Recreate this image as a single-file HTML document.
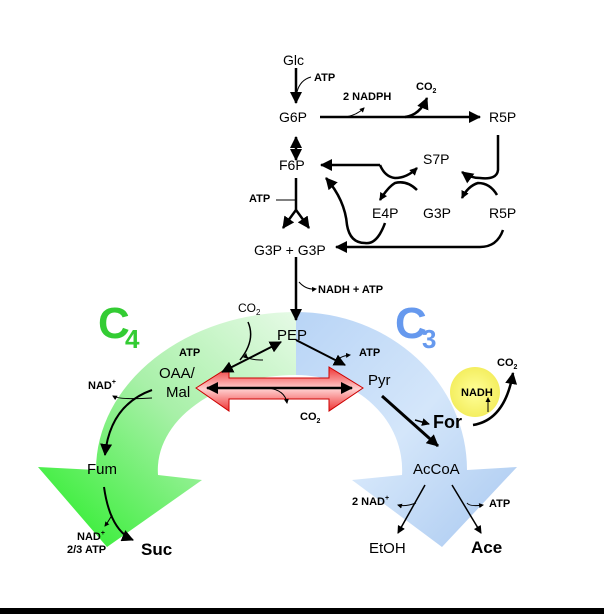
<!DOCTYPE html>
<html><head><meta charset="utf-8"><style>
html,body{margin:0;padding:0;background:#fff;width:604px;height:614px;overflow:hidden}
svg text{font-family:"Liberation Sans",Arial,sans-serif;fill:#000}
.b{font-weight:bold}
.n{font-weight:normal}
</style></head><body>
<svg width="604" height="614" viewBox="0 0 604 614" xmlns="http://www.w3.org/2000/svg">
<defs>
<linearGradient id="gg" x1="1" y1="0" x2="0" y2="1">
<stop offset="0" stop-color="#e6fae6"/><stop offset="0.45" stop-color="#a8f0a8"/><stop offset="1" stop-color="#22ee22"/></linearGradient>
<linearGradient id="bg" x1="0" y1="0" x2="1" y2="1">
<stop offset="0" stop-color="#b8d4f6"/><stop offset="0.5" stop-color="#d4e6fa"/><stop offset="1" stop-color="#a8c8f0"/></linearGradient>
<linearGradient id="rg" x1="0" y1="0" x2="0" y2="1">
<stop offset="0" stop-color="#ee3333"/><stop offset="0.5" stop-color="#ffd0d0"/><stop offset="1" stop-color="#ee3333"/></linearGradient>
<radialGradient id="yg"><stop offset="0" stop-color="#ffff99"/><stop offset="1" stop-color="#f4ee60"/></radialGradient>
<marker id="a" markerWidth="8" markerHeight="8" refX="7" refY="4" orient="auto-start-reverse" markerUnits="userSpaceOnUse"><path d="M0,0 L8,4 L0,8z" fill="#000"/></marker>
<marker id="b" markerWidth="12" markerHeight="12" refX="11" refY="6" orient="auto-start-reverse" markerUnits="userSpaceOnUse"><path d="M0,0 L12,6 L0,12z" fill="#000"/></marker>
<marker id="s" markerWidth="5" markerHeight="5" refX="4" refY="2.5" orient="auto-start-reverse" markerUnits="userSpaceOnUse"><path d="M0,0 L5,2.5 L0,5z" fill="#000"/></marker>
</defs>
<path d="M296,312 A200,158 0 0 0 96,470 L38,467 L107,547 L202,480 L158,475 A138,95 0 0 1 296,375 Z" fill="url(#gg)"/>
<path d="M296,312 A171,158 0 0 1 467,470 L517,467 L442,547 L352,480 L402,475 A106,95 0 0 0 296,375 Z" fill="url(#bg)"/>
<path d="M196,388 L229,367 L229,378 L329,378 L329,367 L363,388 L329,411 L329,399 L229,399 L229,411 Z" fill="url(#rg)" stroke="#c00" stroke-width="1"/>
<line x1="207" y1="388" x2="352" y2="388" stroke="#000" stroke-width="2.5" marker-start="url(#b)" marker-end="url(#b)"/>
<path d="M268,388 Q285,390 287,403" fill="none" stroke="#000" stroke-width="1" marker-end="url(#s)"/>
<ellipse cx="475" cy="392" rx="25" ry="25" fill="url(#yg)"/>
<g stroke="#000" fill="none" stroke-width="2.5">
<line x1="296" y1="68" x2="296" y2="103" marker-end="url(#b)"/>
<line x1="296" y1="137" x2="296" y2="160" marker-end="url(#b)" marker-start="url(#b)"/>
<line x1="320" y1="117" x2="480" y2="117" marker-end="url(#b)"/>
<path d="M405,117 Q420,115 427,98" marker-end="url(#b)"/>
<line x1="380" y1="165" x2="321" y2="165" marker-end="url(#b)"/>
<path d="M380,165 Q385,177 395,178 Q407,178 417,168" marker-end="url(#a)"/>
<path d="M498,135 L498,170 Q497,180 480,178 Q470,178 462,172" marker-end="url(#b)"/>
<path d="M417,190 Q407,180 395,183 Q388,187 380,200" marker-end="url(#a)"/>
<path d="M497,195 Q490,183 478,183 Q468,186 462,198" marker-end="url(#a)"/>
<path d="M385,223 Q377,245 365,243 Q350,243 347,225 Q345,200 326,178" marker-end="url(#b)"/>
<path d="M503,230 Q497,247 480,247 L336,247" marker-end="url(#b)"/>
<line x1="296" y1="178" x2="296" y2="210"/>
<path d="M296,210 Q290,218 283,228" marker-end="url(#b)"/>
<path d="M296,210 Q302,218 309,228" marker-end="url(#b)"/>
<line x1="296" y1="257" x2="296" y2="320" marker-end="url(#b)"/>
<line x1="296" y1="340" x2="345" y2="365" stroke-width="2" marker-end="url(#b)"/>
<path d="M222,372 L281,342" stroke-width="2" marker-start="url(#b)" marker-end="url(#b)"/>
<path d="M248,322 Q256,340 240,360" stroke-width="1.5"/>
<path d="M152,390 Q110,405 105,455" marker-end="url(#b)" stroke-width="2"/>
<path d="M104,487 Q110,530 133,540" marker-end="url(#b)" stroke-width="2"/>
<line x1="382" y1="396" x2="438" y2="446" stroke-width="3" marker-end="url(#b)"/>
<line x1="415" y1="420" x2="429" y2="424" stroke-width="1.5" marker-end="url(#a)"/>
<path d="M473,425 Q505,420 513,373" marker-end="url(#b)"/>
<line x1="425" y1="485" x2="398" y2="533" stroke-width="1.5" marker-end="url(#a)"/>
<line x1="452" y1="485" x2="481" y2="533" stroke-width="1.5" marker-end="url(#a)"/>
</g>
<g stroke="#000" fill="none" stroke-width="1">
<path d="M311,77 Q300,80 297,92"/>
<path d="M346,117 Q357,115 364,108" marker-end="url(#s)"/>
<path d="M276,200 L296,200"/>
<path d="M299,282 Q306,290 316,289" marker-end="url(#s)"/>
<path d="M263,360 Q245,360 246,354" marker-end="url(#s)"/>
<path d="M337,361 Q340,356 350,355" marker-end="url(#s)"/>
<path d="M152,398 Q120,400 113,396" marker-end="url(#s)"/>
<path d="M112,515 Q108,522 105,526" marker-end="url(#s)"/>
<path d="M416,503 Q405,507 398,505" marker-end="url(#s)"/>
<path d="M467,503 Q470,507 483,505" marker-end="url(#s)"/>
<path d="M488,412 L488,398" marker-end="url(#s)"/>
</g>
<text class="n" x="283" y="65" font-size="14">Glc</text>
<text class="b" x="314" y="81" font-size="11">ATP</text>
<text class="n" x="279" y="122" font-size="14">G6P</text>
<text class="b" x="343" y="100" font-size="11">2 NADPH</text>
<text class="b" x="416" y="90" font-size="11">CO<tspan font-size="7" dy="3">2</tspan></text>
<text class="n" x="489" y="122" font-size="14">R5P</text>
<text class="n" x="279" y="170" font-size="14">F6P</text>
<text class="n" x="423" y="164" font-size="14">S7P</text>
<text class="b" x="249" y="202" font-size="11">ATP</text>
<text class="n" x="372" y="218" font-size="14">E4P</text>
<text class="n" x="423" y="218" font-size="14">G3P</text>
<text class="n" x="489" y="218" font-size="14">R5P</text>
<text class="n" x="254" y="255" font-size="14">G3P + G3P</text>
<text class="b" x="318" y="293" font-size="11">NADH + ATP</text>
<text class="b" x="98" y="338" font-size="44" style="fill:#33cc33">C</text>
<text class="b" x="125" y="348" font-size="26" style="fill:#33cc33">4</text>
<text class="b" x="395" y="338" font-size="44" style="fill:#6699ee">C</text>
<text class="b" x="422" y="348" font-size="26" style="fill:#6699ee">3</text>
<text class="n" x="238" y="312" font-size="12">CO<tspan font-size="8" dy="3">2</tspan></text>
<text class="n" x="277" y="340" font-size="15">PEP</text>
<text class="b" x="179" y="356" font-size="11">ATP</text>
<text class="b" x="359" y="356" font-size="11">ATP</text>
<text class="n" x="159" y="378" font-size="15">OAA/</text>
<text class="n" x="166" y="397" font-size="15">Mal</text>
<text class="b" x="88" y="389" font-size="11">NAD<tspan font-size="7" dy="-5">+</tspan></text>
<text class="n" x="368" y="385" font-size="15">Pyr</text>
<text class="b" x="497" y="366" font-size="11">CO<tspan font-size="7" dy="3">2</tspan></text>
<text class="b" x="461" y="396" font-size="11">NADH</text>
<text class="b" x="300" y="420" font-size="11">CO<tspan font-size="7" dy="3">2</tspan></text>
<text class="b" x="433" y="428" font-size="18">For</text>
<text class="n" x="87" y="474" font-size="15">Fum</text>
<text class="n" x="413" y="474" font-size="15">AcCoA</text>
<text class="b" x="352" y="505" font-size="11">2 NAD<tspan font-size="7" dy="-5">+</tspan></text>
<text class="b" x="489" y="507" font-size="11">ATP</text>
<text class="b" x="77" y="540" font-size="11">NAD<tspan font-size="7" dy="-5">+</tspan></text>
<text class="b" x="67" y="553" font-size="11">2/3 ATP</text>
<text class="b" x="141" y="555" font-size="17">Suc</text>
<text class="n" x="369" y="553" font-size="15">EtOH</text>
<text class="b" x="471" y="553" font-size="17">Ace</text>
<rect x="0" y="608" width="604" height="6" fill="#000"/>
</svg>
</body></html>
